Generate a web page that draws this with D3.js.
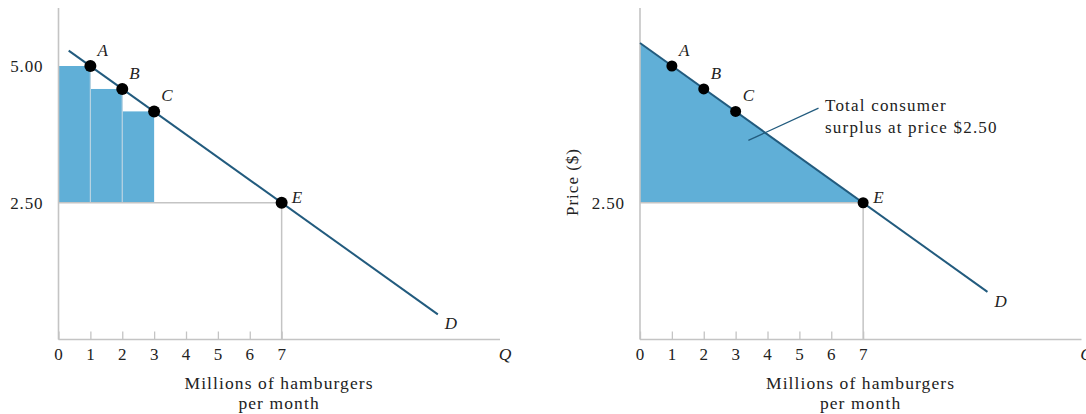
<!DOCTYPE html>
<html>
<head>
<meta charset="utf-8">
<script src="https://cdn.jsdelivr.net/npm/d3@7"></script>
<style>
  html, body { margin: 0; padding: 0; background: #fff; }
  svg { display: block; }
  text { font-family: "Liberation Serif", "DejaVu Serif", serif; fill: #222; }
</style>
</head>
<body>
<svg id="chart" width="1086" height="414"></svg>
<script>
// Points on the demand curve (millions of hamburgers, $ per hamburger)
const pointLabels = ["A", "B", "C", "E"];
const quantities  = [1, 2, 3, 7];
const prices      = [5.00, 4.58, 4.17, 2.50];

// Market price and the quantity bought at that price
const marketPrice = 2.50;
const marketQuantity = 7;

// Demand line end points for each panel
const demandLeftQ  = [0.32, 11.9];
const demandLeftP  = [5.28, 0.46];
const demandRightQ = [0, 10.9];
const demandRightP = [5.42, 0.87];

// Axis ticks and labels
const xTicks = [0, 1, 2, 3, 4, 5, 6, 7];
const leftPriceTicks  = [5.00, 2.50];
const rightPriceTicks = [2.50];
const xTitleLines = ["Millions of hamburgers", "per month"];
const surplusNote = ["Total consumer", "surplus at price $2.50"];

const fillColor = "#60afd7";
const lineColor = "#225b7e";
const gridColor = "#c4c4c4";

const svg = d3.select("#chart");

function drawPanel(opts) {
  const g = svg.append("g");
  const x = d3.scaleLinear().domain([0, 13.85]).range([opts.x0, opts.x0 + 441.5]);
  const y = d3.scaleLinear().domain([0, 5]).range([339.5, 66]);

  // shaded consumer surplus
  if (opts.mode === "bars") {
    const bars = quantities.slice(0, 3).map((q, i) => ({ q, p: prices[i] }));
    g.selectAll("rect.bar").data(bars).join("rect")
      .attr("class", "bar")
      .attr("x", d => x(d.q - 1))
      .attr("y", d => y(d.p))
      .attr("width", d => x(d.q) - x(d.q - 1))
      .attr("height", d => y(marketPrice) - y(d.p))
      .attr("fill", fillColor);
    // thin separators between the bars
    g.selectAll("line.sep").data(bars.slice(0, 2)).join("line")
      .attr("class", "sep")
      .attr("x1", d => x(d.q)).attr("x2", d => x(d.q))
      .attr("y1", d => y(d.p)).attr("y2", y(marketPrice))
      .attr("stroke", "#b9d3e2").attr("stroke-width", 1.2);
  } else {
    const tri = [[0, demandRightP[0]], [marketQuantity, marketPrice], [0, marketPrice]];
    g.append("path")
      .attr("d", d3.line().x(d => x(d[0])).y(d => y(d[1]))(tri) + "Z")
      .attr("fill", fillColor);
  }

  // reference lines at the market price and quantity
  g.append("line")
    .attr("x1", x(0)).attr("x2", x(marketQuantity))
    .attr("y1", y(marketPrice)).attr("y2", y(marketPrice))
    .attr("stroke", gridColor).attr("stroke-width", 1.5);
  g.append("line")
    .attr("x1", x(marketQuantity)).attr("x2", x(marketQuantity))
    .attr("y1", y(marketPrice)).attr("y2", y(0))
    .attr("stroke", gridColor).attr("stroke-width", 1.5);

  // axes
  g.append("line")
    .attr("x1", x(0)).attr("x2", x(0)).attr("y1", 8).attr("y2", y(0))
    .attr("stroke", gridColor).attr("stroke-width", 1.6);
  const xAxis = d3.axisBottom(x).tickValues(xTicks).tickSize(-8).tickFormat("").tickSizeOuter(0);
  const ax = g.append("g").attr("transform", `translate(0,${y(0)})`).call(xAxis);
  ax.select(".domain").attr("stroke", gridColor).attr("stroke-width", 1.6)
    .attr("d", `M${x(0)},0H${opts.x0 + 441.5}`);
  ax.selectAll(".tick line").attr("stroke", gridColor).attr("stroke-width", 1.3);

  g.selectAll("text.xt").data(xTicks).join("text")
    .attr("class", "xt")
    .attr("x", d => x(d)).attr("y", 360)
    .attr("text-anchor", "middle").attr("font-size", 17)
    .text(d => d);
  g.append("text")
    .attr("x", x(13.85) + 5).attr("y", 360)
    .attr("text-anchor", "middle").attr("font-size", 17.5).attr("font-style", "italic")
    .text("Q");

  g.selectAll("text.yt").data(opts.priceTicks).join("text")
    .attr("class", "yt")
    .attr("x", x(0) - 15).attr("y", d => y(d) + 6)
    .attr("text-anchor", "end").attr("font-size", 17).attr("letter-spacing", 0.9)
    .text(d => d3.format(".2f")(d));

  g.selectAll("text.xtitle").data(xTitleLines).join("text")
    .attr("class", "xtitle")
    .attr("x", x(6.92)).attr("y", (d, i) => 389 + i * 20)
    .attr("text-anchor", "middle").attr("font-size", 17.5).attr("letter-spacing", 1.1)
    .text(d => d);

  // demand curve
  const dq = opts.demandQ, dp = opts.demandP;
  g.append("line")
    .attr("x1", x(dq[0])).attr("y1", y(dp[0]))
    .attr("x2", x(dq[1])).attr("y2", y(dp[1]))
    .attr("stroke", lineColor).attr("stroke-width", 2);
  g.append("text")
    .attr("x", x(dq[1]) + 7).attr("y", y(dp[1]) + 15)
    .attr("font-size", 17).attr("font-style", "italic")
    .text("D");

  // labelled points
  const pts = quantities.map((q, i) => ({ q, p: prices[i], label: pointLabels[i] }));
  g.selectAll("circle.pt").data(pts).join("circle")
    .attr("class", "pt")
    .attr("cx", d => x(d.q)).attr("cy", d => y(d.p))
    .attr("r", opts.r).attr("fill", "#000");
  g.selectAll("text.pl").data(pts).join("text")
    .attr("class", "pl")
    .attr("x", d => x(d.q) + (d.label === "E" ? 10 : 7))
    .attr("y", d => y(d.p) - (d.label === "E" ? 0 : 10))
    .attr("font-size", 17).attr("font-style", "italic")
    .text(d => d.label);

  return { g, x, y };
}

drawPanel({ x0: 58.5, mode: "bars", priceTicks: leftPriceTicks,
            demandQ: demandLeftQ, demandP: demandLeftP, r: 6 });

const right = drawPanel({ x0: 640, mode: "area", priceTicks: rightPriceTicks,
                          demandQ: demandRightQ, demandP: demandRightP, r: 5.5 });

// y-axis title for the right panel
right.g.append("text")
  .attr("transform", `translate(578,182) rotate(-90)`)
  .attr("text-anchor", "middle").attr("font-size", 17).attr("letter-spacing", 1)
  .text("Price ($)");

// note pointing into the shaded area
right.g.append("line")
  .attr("x1", right.x(3.4)).attr("y1", right.y(3.64))
  .attr("x2", right.x(5.6)).attr("y2", right.y(4.23))
  .attr("stroke", lineColor).attr("stroke-width", 1.3);
right.g.selectAll("text.note").data(surplusNote).join("text")
  .attr("class", "note")
  .attr("x", 825).attr("y", (d, i) => 111 + i * 22)
  .attr("font-size", 17).attr("letter-spacing", 1.2)
  .text(d => d);
</script>
</body>
</html>
